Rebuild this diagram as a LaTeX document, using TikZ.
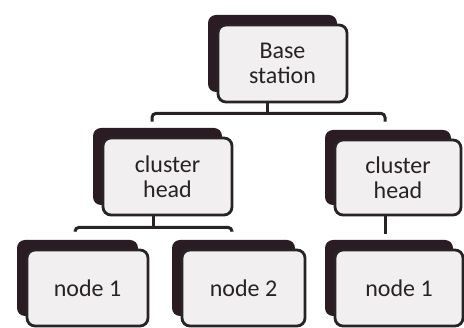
\documentclass[tikz,border=0pt]{standalone}
\usepackage{fontspec}
\setmainfont{Carlito}
\usetikzlibrary{shadows,calc}

\definecolor{shadowc}{RGB}{42,28,34}
\definecolor{boxfill}{RGB}{241,239,239}
\definecolor{inkc}{RGB}{40,36,38}
\definecolor{textc}{RGB}{40,34,36}

\tikzset{
  unit/.style={draw=inkc, line width=2.8pt, rounded corners=8pt, fill=boxfill,
    text=textc, align=center, inner sep=0pt,
    font=\fontsize{24}{25}\selectfont,
    drop shadow={shadow xshift=-10pt, shadow yshift=10pt, fill=shadowc, opacity=1}},
  link/.style={draw=inkc, line width=3pt, rounded corners=4pt}
}

\begin{document}
\begin{tikzpicture}[x=1pt, y=-1pt]
  \useasboundingbox (0,0) rectangle (464,328);

  % hierarchy boxes
  \node[unit, minimum width=129pt, minimum height=77pt] (bs)  at (282.5,63.5) {Base\\station};
  \node[unit, minimum width=129pt, minimum height=77pt] (ch1) at (167.5,176.5) {cluster\\head};
  \node[unit, minimum width=126pt, minimum height=75pt] (ch2) at (398,177.5) {cluster\\head};
  \node[unit, minimum width=121pt, minimum height=76pt] (n1)  at (87.5,288) {node 1};
  \node[unit, minimum width=123pt, minimum height=76pt] (n2)  at (243.5,288) {node 2};
  \node[unit, minimum width=128pt, minimum height=76pt] (n3)  at (399,288) {node 1};

  % base station to cluster heads
  \coordinate (busTop) at ($(bs.south)+(-15.5,10)$);
  \draw[link] (bs.south -| busTop) -- (busTop);
  \draw[link] ($(ch1.north)+(-15.5,-15)$) |- (busTop) -| ($(ch2.north)+(-13,-17)$);

  % left cluster head to its nodes
  \coordinate (busLeft) at ($(ch1.south)+(-14.5,11)$);
  \draw[link] (ch1.south -| busLeft) -- (busLeft);
  \draw[link] ($(n1.north)+(-12.5,-17)$) |- (busLeft) -| ($(n2.north)+(-11.5,-17)$);

  % right cluster head to its node
  \draw[link] ($(ch2.south)+(-13,0)$) -- ($(n3.north)+(-14,-15)$);
\end{tikzpicture}
\end{document}
